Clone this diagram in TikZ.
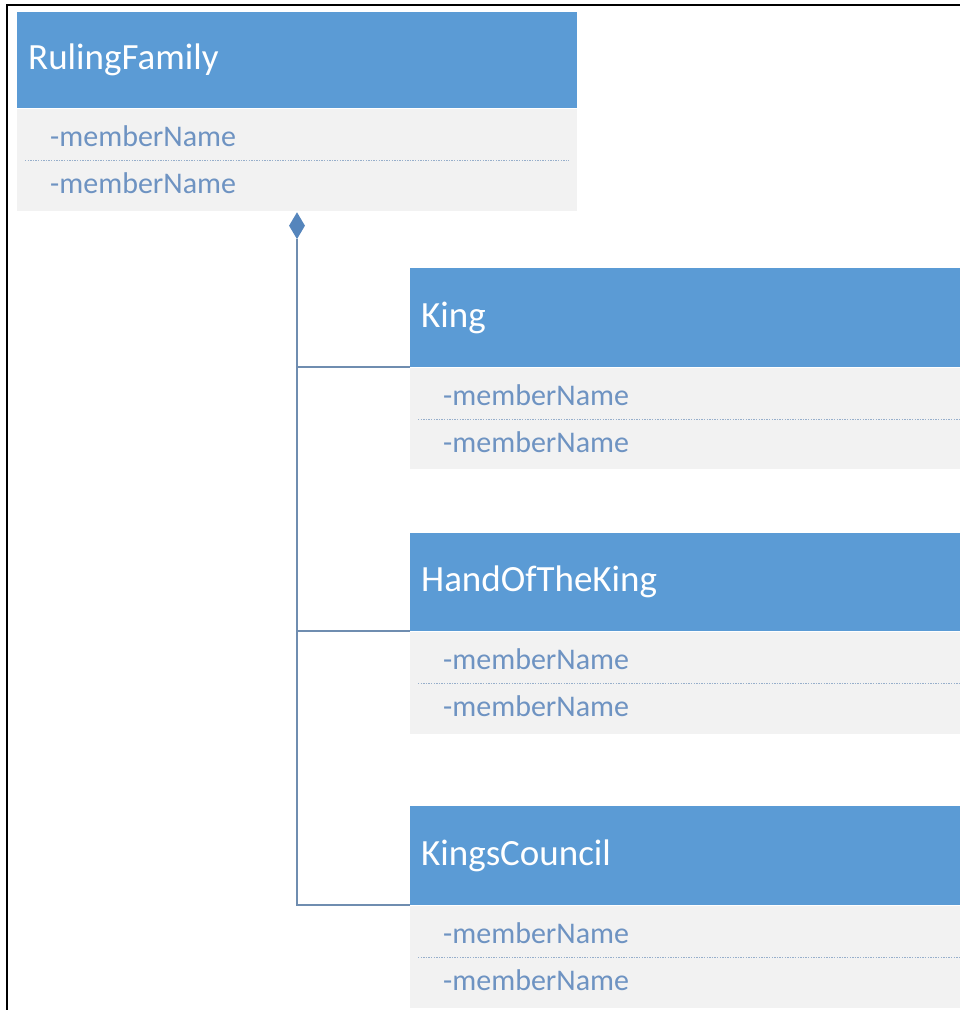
\documentclass[tikz,border=0pt]{standalone}
\usepackage{fontspec}
\setmainfont{Carlito}
\usetikzlibrary{shapes.geometric}
\definecolor{hdrblue}{HTML}{5B9BD5}
\definecolor{bodygray}{HTML}{F2F2F2}
\definecolor{membertxt}{HTML}{6E93C2}
\definecolor{dotline}{HTML}{97AFCB}
\definecolor{connblue}{HTML}{6F8DB0}
\definecolor{diafill}{HTML}{5585BC}
\tikzset{
  x=1pt, y=-1pt,
  classhead/.style={fill=hdrblue, draw=none, anchor=north west, inner sep=0pt},
  classbody/.style={fill=bodygray, draw=none, anchor=north west, inner sep=0pt},
  classtitle/.style={anchor=west, inner sep=0pt, text=white, font=\fontsize{37}{41}\selectfont},
  member/.style={anchor=west, inner sep=0pt, text=membertxt, font=\fontsize{30}{34}\selectfont},
  sepline/.style={draw=dotline, line width=1.8pt, dash pattern=on 1.3pt off 1.3pt},
  conn/.style={draw=connblue, line width=2pt},
  composite/.style={diamond, fill=diafill, draw=none, inner sep=0pt, minimum width=16pt, minimum height=27pt},
  frameline/.style={draw=black, line width=2pt}
}
% \umlbox{name}{x}{y}{width}{head height}{body height}{title}
\newcommand\umlbox[7]{%
  \node[classhead, minimum width=#4pt, minimum height=#5pt] (#1-head) at (#2,#3) {};
  \node[classbody, minimum width=#4pt, minimum height=#6pt] (#1-body) at (#1-head.south west) {};
  \node[classtitle] (#1-title) at ([xshift=11pt]#1-head.west) {#7};
  \node[member] (#1-m1) at ([xshift=33pt, yshift=-28pt]#1-head.south west) {-memberName};
  \node[member] (#1-m2) at ([xshift=33pt, yshift=-75pt]#1-head.south west) {-memberName};
  \draw[sepline] ([xshift=8pt, yshift=-52pt]#1-head.south west) -- ([xshift=-8pt, yshift=-52pt]#1-head.south east);
}
\begin{document}
\begin{tikzpicture}
\useasboundingbox (0,0) rectangle (960,1010);
\clip (0,0) rectangle (960,1010);
\fill[white] (0,0) rectangle (960,1010);
% outer frame
\draw[frameline] (7,1030) -- (7,5) -- (980,5);

% classes
\umlbox{rf}{17}{12}{560}{96}{102}{RulingFamily}
\umlbox{king}{410}{268}{570}{99}{101}{King}
\umlbox{hand}{410}{533}{570}{98}{102}{HandOfTheKing}
\umlbox{council}{410}{806}{570}{99}{102}{KingsCouncil}

% composition: RulingFamily owns the three parts
\node[composite, anchor=north] (dia) at (297,212) {};
\draw[conn] (dia.south) |- (council-head.south west);
\draw[conn] (dia.south |- king-head.south west) -- (king-head.south west);
\draw[conn] (dia.south |- hand-head.south west) -- (hand-head.south west);
\end{tikzpicture}
\end{document}
